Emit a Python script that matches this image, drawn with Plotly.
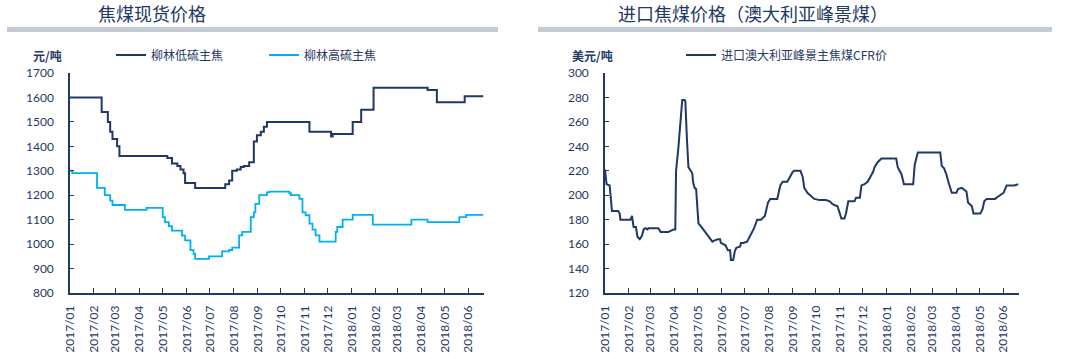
import plotly.graph_objects as go

# ---------------- data ----------------
month_ticks = ["2017-01-01", "2017-02-01", "2017-03-01", "2017-04-01", "2017-05-01", "2017-06-01",
               "2017-07-01", "2017-08-01", "2017-09-01", "2017-10-01", "2017-11-01", "2017-12-01",
               "2018-01-01", "2018-02-01", "2018-03-01", "2018-04-01", "2018-05-01", "2018-06-01"]
tick_labels = ["2017/01", "2017/02", "2017/03", "2017/04", "2017/05", "2017/06",
               "2017/07", "2017/08", "2017/09", "2017/10", "2017/11", "2017/12",
               "2018/01", "2018/02", "2018/03", "2018/04", "2018/05", "2018/06"]

low_dates = ["2017-01-01", "2017-02-11", "2017-02-19", "2017-02-22", "2017-02-25", "2017-03-03",
             "2017-03-06", "2017-05-07", "2017-05-13", "2017-05-20", "2017-05-24", "2017-05-28",
             "2017-05-30", "2017-06-12", "2017-07-21", "2017-07-26", "2017-07-30", "2017-08-05",
             "2017-08-10", "2017-08-14", "2017-08-21", "2017-08-27", "2017-08-31", "2017-09-05",
             "2017-09-09", "2017-09-13", "2017-11-07", "2017-12-05", "2017-12-07", "2018-01-02",
             "2018-01-13", "2018-01-29", "2018-04-09", "2018-04-21", "2018-05-27", "2018-06-20"]
low_vals = [1600, 1540, 1500, 1460, 1430, 1400,
            1360, 1352, 1330, 1320, 1305, 1290,
            1250, 1230, 1245, 1260, 1300, 1305,
            1315, 1320, 1335, 1420, 1445, 1460,
            1480, 1500, 1460, 1440, 1450, 1500,
            1550, 1640, 1630, 1580, 1605, 1605]

high_dates = ["2017-01-01", "2017-01-04", "2017-02-05", "2017-02-15", "2017-02-22", "2017-02-25",
              "2017-03-13", "2017-04-10", "2017-05-01", "2017-05-04", "2017-05-09", "2017-05-13",
              "2017-05-26", "2017-05-30", "2017-06-06", "2017-06-10", "2017-06-12", "2017-06-30",
              "2017-07-17", "2017-07-26", "2017-07-30", "2017-08-08", "2017-08-12", "2017-08-23",
              "2017-08-27", "2017-08-29", "2017-09-03", "2017-09-13", "2017-09-16", "2017-10-12",
              "2017-10-14", "2017-10-25", "2017-10-29", "2017-11-02", "2017-11-07", "2017-11-11",
              "2017-11-15", "2017-11-20", "2017-12-11", "2017-12-13", "2017-12-20", "2018-01-02",
              "2018-01-28", "2018-03-19", "2018-04-09", "2018-05-20", "2018-05-29", "2018-06-20"]
high_vals = [1300, 1290, 1230, 1200, 1178, 1160,
             1140, 1148, 1110, 1090, 1073, 1055,
             1035, 1015, 975, 960, 940, 950,
             970, 976, 986, 1036, 1050, 1110,
             1130, 1165, 1200, 1212, 1215, 1208,
             1200, 1185, 1130, 1118, 1084, 1059,
             1036, 1010, 1050, 1070, 1100, 1120,
             1080, 1100, 1090, 1110, 1120, 1120]

cfr_dates = ["2017-01-01", "2017-01-03", "2017-01-07", "2017-01-08", "2017-01-10", "2017-01-18",
             "2017-01-20", "2017-01-21", "2017-02-03", "2017-02-05", "2017-02-07", "2017-02-10",
             "2017-02-12", "2017-02-15", "2017-02-18", "2017-02-20", "2017-02-22", "2017-02-25",
             "2017-02-26", "2017-03-11", "2017-03-14", "2017-03-24", "2017-03-27", "2017-03-31",
             "2017-04-02", "2017-04-03", "2017-04-06", "2017-04-09", "2017-04-11", "2017-04-14",
             "2017-04-15", "2017-04-17", "2017-04-19", "2017-04-22", "2017-04-24", "2017-04-25",
             "2017-04-27", "2017-04-29", "2017-05-01", "2017-05-02", "2017-05-07", "2017-05-13",
             "2017-05-20", "2017-05-23", "2017-05-27", "2017-05-30", "2017-05-31", "2017-06-06",
             "2017-06-09", "2017-06-12", "2017-06-13", "2017-06-16", "2017-06-18", "2017-06-20",
             "2017-06-25", "2017-06-26", "2017-06-29", "2017-07-04", "2017-07-09", "2017-07-13",
             "2017-07-17", "2017-07-22", "2017-07-27", "2017-07-31", "2017-08-03", "2017-08-12",
             "2017-08-16", "2017-08-19", "2017-08-25", "2017-08-29", "2017-09-01", "2017-09-03",
             "2017-09-11", "2017-09-14", "2017-09-16", "2017-09-20", "2017-09-25", "2017-09-29",
             "2017-10-06", "2017-10-14", "2017-10-19", "2017-10-22", "2017-10-25", "2017-10-29",
             "2017-11-01", "2017-11-03", "2017-11-07", "2017-11-09", "2017-11-12", "2017-11-20",
             "2017-11-22", "2017-11-27", "2017-11-29", "2017-12-03", "2017-12-07", "2017-12-12",
             "2017-12-14", "2017-12-16", "2017-12-20", "2017-12-25", "2018-01-13", "2018-01-15",
             "2018-01-20", "2018-01-23", "2018-02-04", "2018-02-06", "2018-02-10", "2018-03-11",
             "2018-03-13", "2018-03-16", "2018-03-19", "2018-03-22", "2018-03-26", "2018-04-01",
             "2018-04-03", "2018-04-08", "2018-04-14", "2018-04-16", "2018-04-21", "2018-04-23",
             "2018-05-02", "2018-05-05", "2018-05-07", "2018-05-10", "2018-05-21", "2018-05-25",
             "2018-06-01", "2018-06-05", "2018-06-15", "2018-06-20"]
cfr_vals = [221, 209, 208, 200, 187, 187,
            185, 180, 180, 183, 174, 174,
            166, 164, 167, 172, 173, 172,
            173, 173, 170, 170, 171, 172,
            172, 220, 239, 264, 278, 278,
            277, 247, 223, 220, 218, 211,
            206, 205, 188, 177, 173, 168,
            162, 163, 164, 164, 161, 159,
            155, 155, 147, 147, 154, 157,
            158, 161, 161, 162, 168, 173,
            180, 180, 183, 194, 197, 197,
            208, 211, 211, 216, 219, 220,
            220, 215, 206, 202, 199, 197,
            196, 196, 195, 193, 192, 191,
            185, 181, 181, 185, 195, 195,
            198, 198, 208, 209, 211, 216,
            219, 223, 227, 230, 230, 223,
            217, 209, 209, 225, 235, 235,
            224, 222, 217, 210, 202, 202,
            205, 206, 203, 194, 191, 185,
            185, 189, 195, 197, 197, 199,
            202, 208, 208, 209]

# ---------------- style ----------------
NAVY = "#1F3864"
CYAN = "#00B0F0"
CJK = "Noto Sans CJK SC"
NUM = "Lato"
W, H = 1080, 359


def fx(p):
    return p / W


def fy(p):
    return 1 - p / H


fig = go.Figure()
fig.add_trace(go.Scatter(x=low_dates, y=low_vals, mode="lines", name="柳林低硫主焦",
                         line=dict(color=NAVY, width=2, shape="hv"),
                         xaxis="x", yaxis="y", legend="legend"))
fig.add_trace(go.Scatter(x=high_dates, y=high_vals, mode="lines", name="柳林高硫主焦",
                         line=dict(color=CYAN, width=1.8, shape="hv"),
                         xaxis="x", yaxis="y", legend="legend"))
fig.add_trace(go.Scatter(x=cfr_dates, y=cfr_vals, mode="lines", name="进口澳大利亚峰景主焦煤CFR价",
                         line=dict(color=NAVY, width=2),
                         xaxis="x2", yaxis="y2", legend="legend2"))

xcommon = dict(type="date", tickvals=month_ticks, ticktext=tick_labels, tickangle=-90,
               ticks="inside", ticklen=5, tickcolor=NAVY, tickwidth=1, automargin=False,
               showline=True, linecolor=NAVY, linewidth=1.5, showgrid=False, zeroline=False,
               tickfont=dict(family=NUM, size=12, color=NAVY), ticklabelstandoff=6)
ycommon = dict(ticks="inside", ticklen=4, tickcolor=NAVY, tickwidth=1, automargin=False,
               showline=True, linecolor=NAVY, linewidth=1.5, showgrid=False, zeroline=False,
               tickfont=dict(family=NUM, size=12, color=NAVY), ticklabelstandoff=12)


def label(text, x, y, size, bold=False):
    return dict(text=("<b>%s</b>" % text) if bold else text, x=fx(x), y=fy(y),
                xref="paper", yref="paper", xanchor="center", yanchor="middle",
                showarrow=False, font=dict(family=CJK, size=size, color=NAVY))


fig.update_layout(
    template="none",
    width=W, height=H,
    margin=dict(l=0, r=0, t=0, b=0, pad=0, autoexpand=False),
    paper_bgcolor="white", plot_bgcolor="white",
    xaxis=dict(domain=[fx(70), fx(484)], range=["2017-01-01", "2018-06-21"], anchor="y", **xcommon),
    yaxis=dict(domain=[fy(293), fy(73)], range=[800, 1700], dtick=100, anchor="x", **ycommon),
    xaxis2=dict(domain=[fx(605), fx(1019)], range=["2017-01-01", "2018-06-21"], anchor="y2", **xcommon),
    yaxis2=dict(domain=[fy(293), fy(73)], range=[120, 300], dtick=20, anchor="x2", **ycommon),
    legend=dict(orientation="h", x=fx(111), xanchor="left", y=fy(55), yanchor="middle",
                font=dict(family=CJK, size=12, color=NAVY), bgcolor="rgba(0,0,0,0)",
                itemwidth=30, entrywidth=108, tracegroupgap=0),
    legend2=dict(orientation="h", x=fx(681), xanchor="left", y=fy(55), yanchor="middle",
                 font=dict(family=CJK, size=12, color=NAVY), bgcolor="rgba(0,0,0,0)",
                 itemwidth=30),
    showlegend=True,
    annotations=[
        label("焦煤现货价格", 152, 13, 18),
        label("进口焦煤价格（澳大利亚峰景煤）", 753, 13, 18),
        label("元/吨", 47, 55, 12, bold=True),
        label("美元/吨", 592, 55, 12, bold=True),
    ],
    shapes=[
        dict(type="rect", xref="paper", yref="paper", x0=fx(7), x1=fx(498), y0=fy(32), y1=fy(27),
             fillcolor="#C3CBD5", line=dict(width=0), layer="below"),
        dict(type="rect", xref="paper", yref="paper", x0=fx(538), x1=fx(1052), y0=fy(32), y1=fy(27),
             fillcolor="#C3CBD5", line=dict(width=0), layer="below"),
    ],
)

fig.write_html("out.html", config={"displayModeBar": False},
               post_script="document.body.style.margin='0px';")
